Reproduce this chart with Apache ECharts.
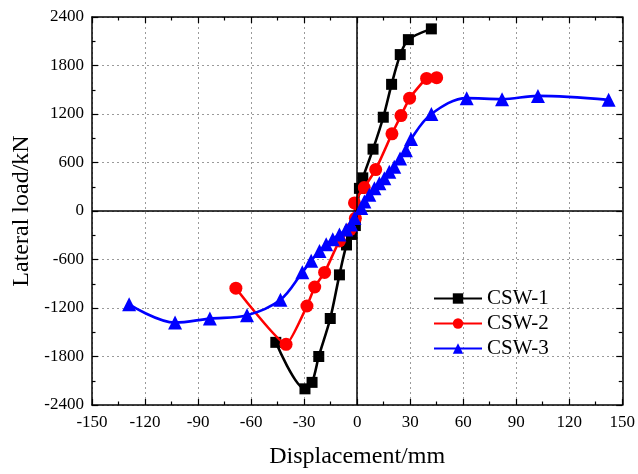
<!DOCTYPE html>
<html><head><meta charset="utf-8">
<script src="https://cdn.jsdelivr.net/npm/echarts@6/dist/echarts.min.js"></script>
<style>html,body{margin:0;padding:0;background:#fff}#c{width:638px;height:474px}</style>
</head><body><div id="c"></div>
<script>
var xTicks = [-150,-120,-90,-60,-30,0,30,60,90,120,150];
var yTicks = [-2400,-1800,-1200,-600,0,600,1200,1800,2400];
var seriesNames = ['CSW-1','CSW-2','CSW-3'];

var csw1X = [-46, -29.5, -25.5, -21.7, -15.2, -10, -6, -3.2, -1, 1.3, 3.2, 9, 14.8, 19.5, 24.4, 29, 42];
var csw1Y = [-1625, -2200, -2120, -1800, -1330, -790, -420, -290, -180, 280, 410, 765, 1160, 1567, 1935, 2120, 2253];

var csw2X = [-68.6, -40.2, -28.4, -24, -18.4, -10, -4, -1, -1.5, 4, 10.5, 19.7, 24.8, 29.7, 39.3, 45];
var csw2Y = [-955, -1649, -1175, -940, -760, -370, -230, -90, 100, 290, 512, 955, 1180, 1396, 1640, 1650];

var csw3X = [-129, -103, -83.3, -62.3, -43.4, -31, -26, -21.3, -17.5, -13.8, -10, -6.2, -3.4, -1.5, 2.3, 4.1, 6.9, 9.8, 12.6, 15.4, 18.2, 21, 24.3, 27.6, 30.5, 42, 62, 82, 102.3, 142.3];
var csw3Y = [-1155, -1380, -1331, -1290, -1098, -759, -616, -494, -412, -351, -290, -229, -168, -86, 37, 119, 200, 282, 343, 404, 486, 547, 649, 751, 890, 1200, 1396, 1384, 1424, 1375];

function pairs(xs, ys){ return xs.map(function(x,i){ return [x, ys[i]]; }); }

var FONT = '"Liberation Serif","Times New Roman",serif';
var chart = echarts.init(document.getElementById('c'), null, {renderer:'canvas'});

function xAx(pos, labels){
  return {
    type:'value', position:pos, min:xTicks[0], max:xTicks[xTicks.length-1], interval:30,
    name: labels ? 'Displacement/mm' : '', nameLocation:'middle', nameGap:40,
    nameTextStyle:{fontFamily:FONT, fontSize:24, color:'#000'},
    axisLine:{show:true, onZero:false, lineStyle:{color:'#000', width:1.5}},
    axisTick:{show:true, inside:true, length:6, lineStyle:{color:'#000', width:1.2}},
    minorTick:{show:true, splitNumber:2, length:3.5, lineStyle:{color:'#000', width:1.2}},
    axisLabel:{show:labels, fontFamily:FONT, fontSize:17, color:'#000', margin:9,
      formatter:function(v){ return String(v); }},
    splitLine:{show:labels, lineStyle:{color:'#9a9a9a', type:[2,3], width:1}}
  };
}
function yAx(pos, labels){
  return {
    type:'value', position:pos, min:yTicks[0], max:yTicks[yTicks.length-1], interval:600,
    name: labels ? 'Lateral load/kN' : '', nameLocation:'middle', nameGap:50,
    nameTextStyle:{fontFamily:FONT, fontSize:24, color:'#000'},
    axisLine:{show:true, onZero:false, lineStyle:{color:'#000', width:1.5}},
    axisTick:{show:true, inside:true, length:6, lineStyle:{color:'#000', width:1.2}},
    minorTick:{show:true, splitNumber:2, length:3.5, lineStyle:{color:'#000', width:1.2}},
    axisLabel:{show:labels, fontFamily:FONT, fontSize:17, color:'#000', margin:8,
      formatter:function(v){ return String(v); }},
    splitLine:{show:labels, lineStyle:{color:'#9a9a9a', type:[2,3], width:1}}
  };
}

var colors = ['#000000','#ff0000','#0000ff'];
var symbols = ['rect','circle','triangle'];
var sizes = [11, 13, 14];
var datas = [pairs(csw1X,csw1Y), pairs(csw2X,csw2Y), pairs(csw3X,csw3Y)];
var smooths = [0.3, 0.15, 0.35];

var series = datas.map(function(d,i){
  return {
    name: seriesNames[i], type:'line', data:d, xAxisIndex:0, yAxisIndex:0,
    symbol: symbols[i], symbolSize: sizes[i], smooth: smooths[i],
    lineStyle:{color:colors[i], width:2.6}, itemStyle:{color:colors[i]},
    z: 3 + i, animation:false
  };
});
series.unshift({
  type:'line', data:[], xAxisIndex:0, yAxisIndex:0, silent:true, z:2,
  markLine:{silent:true, symbol:'none', animation:false, label:{show:false},
    lineStyle:{color:'#000', width:1.5, type:'solid'},
    data:[{xAxis:0},{yAxis:0}]}
});

chart.setOption({
  animation:false,
  grid:{left:92, right:14.5, top:17, bottom:65, containLabel:false},
  legend:{
    orient:'vertical', left:428, top:283, itemWidth:48, itemHeight:13, itemGap:4,
    data: seriesNames,
    textStyle:{fontFamily:FONT, fontSize:21, color:'#000'}
  },
  xAxis:[xAx('bottom', true), xAx('top', false)],
  yAxis:[yAx('left', true), yAx('right', false)],
  series: series
});
</script>
</body></html>
